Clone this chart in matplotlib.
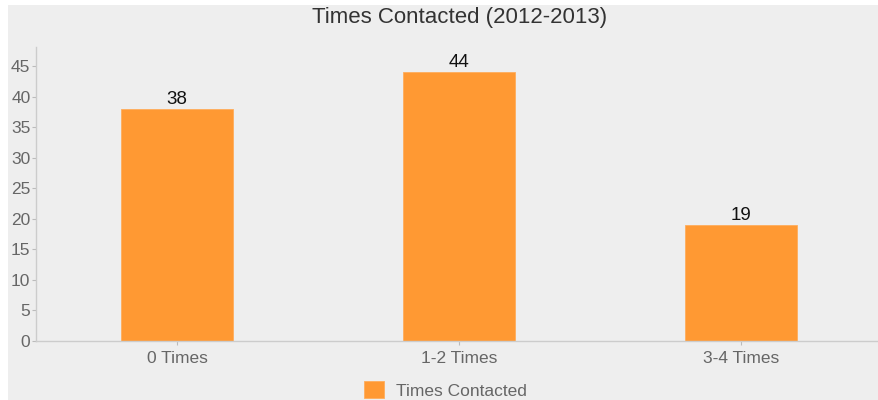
import matplotlib
matplotlib.use("Agg")
import matplotlib.pyplot as plt
from matplotlib.patches import Rectangle

categories = ["0 Times", "1-2 Times", "3-4 Times"]
values = [38, 44, 19]
series_name = "Times Contacted"
title = "Times Contacted (2012-2013)"
yticks = [0, 5, 10, 15, 20, 25, 30, 35, 40, 45]

plt.rcParams['font.family'] = ['Liberation Sans', 'DejaVu Sans']

W, H = 879, 400
fig = plt.figure(figsize=(W / 100, H / 100), dpi=100, facecolor="white")
bg = Rectangle((8 / W, -0.01), 1.02, 1.01 - 5 / H, transform=fig.transFigure,
               facecolor="#eeeeee", edgecolor="none", zorder=-10)
fig.patches.append(bg)

left, right = 36 / W, 882 / W
bottom, top = (H - 341) / H, (H - 47) / H
ax = fig.add_axes([left, bottom, right - left, top - bottom])
ax.set_facecolor("none")
ax.set_zorder(2)

x = list(range(len(categories)))
bars = ax.bar(x, values, width=0.397, color="#ff9933", edgecolor="#ffad5c",
              linewidth=0.6, label=series_name, zorder=2)
for xi, v in zip(x, values):
    ax.text(xi, v + 0.2, str(v), ha="center", va="bottom", fontsize=13.5,
            color="#111111")

ax.set_xlim(-0.5, 2.5)
ax.set_ylim(0, 48.1)
ax.set_yticks(yticks)
ax.set_xticks(x)
ax.set_xticklabels(categories)
ax.tick_params(axis="both", colors="#bbbbbb", labelcolor="#666666",
               labelsize=12.5, length=3, width=0.8)
ax.tick_params(axis="y", pad=1)
ax.tick_params(axis="x", pad=4)
for s in ["top", "right"]:
    ax.spines[s].set_visible(False)
for s in ["left", "bottom"]:
    ax.spines[s].set_color("#cccccc")
    ax.spines[s].set_linewidth(1)

fig.text(459.5 / W, 1 - 18 / H, title, ha="center", va="center",
         fontsize=16, color="#333333", zorder=3)

leg = fig.legend(handles=[bars], labels=[series_name], loc="center",
                 bbox_to_anchor=(445.5 / W, 1 - 390 / H), frameon=False,
                 fontsize=12.5, handlelength=1.1, handleheight=1.1,
                 handletextpad=0.7, labelcolor="#666666")

fig.savefig("out.png", dpi=100, facecolor="white")
